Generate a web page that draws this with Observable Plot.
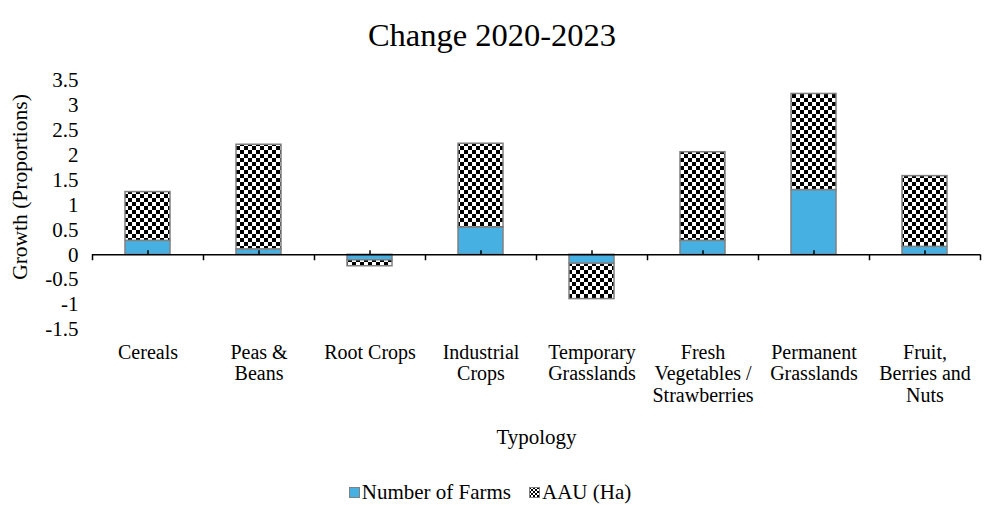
<!DOCTYPE html>
<html>
<head>
<meta charset="utf-8">
<script src="https://cdn.jsdelivr.net/npm/d3@7"></script>
<script src="https://cdn.jsdelivr.net/npm/@observablehq/plot@0.6"></script>
<style>
  html, body { margin: 0; padding: 0; background: #fff; }
  body { width: 984px; height: 505px; overflow: hidden; font-family: "Liberation Serif", "Times New Roman", serif; color: #000; }
  #title { height: 62px; line-height: 70px; text-align: center; font-size: 32.5px; }
  #chart { height: 395px; }
  #legend { display: flex; justify-content: center; align-items: center; gap: 18px; font-size: 21px; margin-top: 23px; padding-right: 4px; }
  #legend .item { display: flex; align-items: center; gap: 2px; }
  #legend svg { display: block; }
</style>
</head>
<body>
<svg width="0" height="0" style="position:absolute">
  <defs>
    <pattern id="checker" patternUnits="userSpaceOnUse" width="8" height="8">
      <rect width="8" height="8" fill="#fff"></rect>
      <rect x="0" y="0" width="4" height="4" fill="#000"></rect>
      <rect x="4" y="4" width="4" height="4" fill="#000"></rect>
    </pattern>
    <pattern id="checkerSmall" patternUnits="userSpaceOnUse" width="4" height="4">
      <rect width="4" height="4" fill="#fff"></rect>
      <rect x="0" y="0" width="2" height="2" fill="#000"></rect>
      <rect x="2" y="2" width="2" height="2" fill="#000"></rect>
    </pattern>
  </defs>
</svg>
<div id="title">Change 2020-2023</div>
<div id="chart"></div>
<div id="legend"></div>
<script>
const categories = ["Cereals", "Peas & Beans", "Root Crops", "Industrial Crops", "Temporary Grasslands", "Fresh Vegetables / Strawberries", "Permanent Grasslands", "Fruit, Berries and Nuts"];
const tickLabels = ["Cereals", "Peas &\nBeans", "Root Crops", "Industrial\nCrops", "Temporary\nGrasslands", "Fresh\nVegetables /\nStrawberries", "Permanent\nGrasslands", "Fruit,\nBerries and\nNuts"];
const seriesNames = ["Number of Farms", "AAU (Ha)"];
const numberOfFarms = [0.28, 0.11, -0.11, 0.55, -0.18, 0.28, 1.30, 0.16];
const aauHa = [0.98, 2.10, -0.12, 1.68, -0.71, 1.78, 1.93, 1.42];
const yTicks = [-1.5, -1, -0.5, 0, 0.5, 1, 1.5, 2, 2.5, 3, 3.5];
const seriesColors = ["#45b0e1", "url(#checker)"];

const rows = [];
categories.forEach((c, i) => {
  rows.push({category: c, series: seriesNames[0], value: numberOfFarms[i]});
  rows.push({category: c, series: seriesNames[1], value: aauHa[i]});
});
const labelOf = new Map(categories.map((c, i) => [c, tickLabels[i]]));

const width = 984, height = 395;
const marginLeft = 92, marginRight = 4, marginTop = 18, marginBottom = 128;
const step = (width - marginLeft - marginRight) / categories.length;

const chart = Plot.plot({
  width, height, marginLeft, marginRight, marginTop, marginBottom,
  style: {fontFamily: "'Liberation Serif', 'Times New Roman', serif", fontSize: "21px", color: "#000", background: "#fff"},
  x: {domain: categories, paddingInner: 0.595, paddingOuter: 0.2975, axis: null},
  y: {domain: [-1.5, 3.5], axis: null},
  color: {domain: seriesNames, range: seriesColors},
  marks: [
    Plot.axisY({ticks: yTicks, tickSize: 0, tickPadding: 14, tickFormat: d => String(d), fontSize: 21, label: null}),
    Plot.axisX({anchor: "bottom", tickSize: 0, tickPadding: 14, tickFormat: d => labelOf.get(d), lineHeight: 1.08, fontSize: 20, label: null}),
    Plot.barY(rows, Plot.stackY({x: "category", y: "value", fill: "series", order: seriesNames, stroke: "#808080", strokeWidth: 1.5})),
    Plot.ruleY([0], {stroke: "#000", strokeWidth: 1.6}),
    Plot.ruleX(categories, {x: d => d, y1: 0, y2: -0.12, dx: -step / 2, stroke: "#000", strokeWidth: 1.5}),
    Plot.ruleX(categories.slice(-1), {x: d => d, y1: 0, y2: -0.12, dx: step / 2, stroke: "#000", strokeWidth: 1.5}),
    Plot.ruleX(categories, {x: d => d, y1: 0, y2: 0.08, stroke: "#000", strokeWidth: 1.5}),
    Plot.text(["Typology"], {frameAnchor: "bottom", dy: 108, fontSize: 21, text: d => d, lineAnchor: "middle"}),
    Plot.text(["Growth (Proportions)"], {frameAnchor: "left", dx: -72, dy: -18, rotate: -90, fontSize: 21.5, text: d => d, lineAnchor: "middle", textAnchor: "middle"})
  ]
});
document.getElementById("chart").appendChild(chart);

const legend = document.getElementById("legend");
const swatchFills = ["#45b0e1", "url(#checkerSmall)"];
seriesNames.forEach((name, i) => {
  const item = document.createElement("div");
  item.className = "item";
  item.innerHTML = `<svg width="11" height="11"><rect x="0.5" y="0.5" width="10" height="10" fill="${swatchFills[i]}" stroke="#808080" stroke-width="1"></rect></svg><span>${name}</span>`;
  legend.appendChild(item);
});
</script>
</body>
</html>
